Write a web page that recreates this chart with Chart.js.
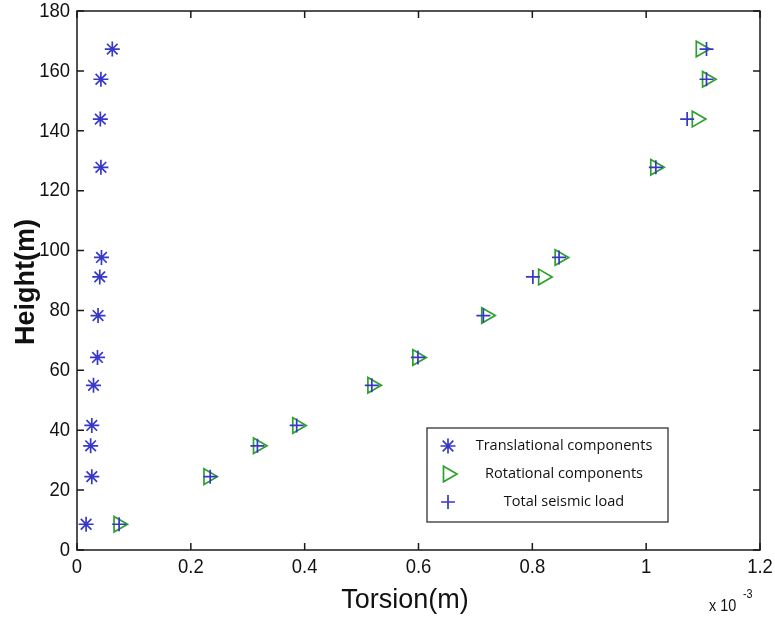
<!DOCTYPE html>
<html>
<head>
<meta charset="utf-8">
<script src="https://cdn.jsdelivr.net/npm/chart.js@4/dist/chart.umd.min.js"></script>
<style>html,body{margin:0;padding:0;background:#fff;}canvas{display:block;}</style>
</head>
<body>
<canvas id="c" width="775" height="619"></canvas>
<script>
// Heights (m)
const heights = [8.6, 24.5, 34.8, 41.6, 55.0, 64.3, 78.3, 91.2, 97.7, 127.8, 143.9, 157.2, 167.3];
// Torsion (x 10^-3 m)
const translational = [0.016, 0.026, 0.024, 0.026, 0.029, 0.036, 0.037, 0.040, 0.043, 0.042, 0.041, 0.042, 0.062];
const rotational = [0.073, 0.231, 0.318, 0.387, 0.519, 0.598, 0.719, 0.819, 0.848, 1.016, 1.089, 1.107, 1.096];
const totalLoad = [0.074, 0.234, 0.317, 0.386, 0.518, 0.599, 0.714, 0.801, 0.847, 1.017, 1.072, 1.106, 1.106];
const xTickLabels = ['0', '0.2', '0.4', '0.6', '0.8', '1', '1.2'];
const yTickLabels = ['0', '20', '40', '60', '80', '100', '120', '140', '160', '180'];
const seriesNames = ['Translational components', 'Rotational components', 'Total seismic load'];

const BLUE = '#3838c8';
const GREEN = '#2ea02e';
const SANS = '"Liberation Sans", Arial, sans-serif';
const toPts = (xs) => xs.map((x, i) => ({x: x, y: heights[i]}));

function txt(ctx, s, x, y, font, align, cond, rot) {
  ctx.save();
  ctx.font = font;
  ctx.textAlign = align;
  ctx.textBaseline = 'middle';
  ctx.translate(x, y);
  if (rot) ctx.rotate(rot);
  ctx.scale(cond, 1);
  ctx.fillText(s, 0, 0);
  ctx.restore();
}

const boxPlugin = {
  id: 'matlabBox',
  afterDraw(chart) {
    const {ctx, chartArea: a, scales} = chart;
    ctx.save();
    ctx.strokeStyle = '#1a1a1a';
    ctx.lineWidth = 1.5;
    ctx.strokeRect(a.left, a.top, a.right - a.left, a.bottom - a.top);
    const L = 7;
    ctx.beginPath();
    scales.x.ticks.forEach((t) => {
      const px = scales.x.getPixelForValue(t.value);
      ctx.moveTo(px, a.bottom); ctx.lineTo(px, a.bottom - L);
      ctx.moveTo(px, a.top); ctx.lineTo(px, a.top + L);
    });
    scales.y.ticks.forEach((t) => {
      const py = scales.y.getPixelForValue(t.value);
      ctx.moveTo(a.left, py); ctx.lineTo(a.left + L, py);
      ctx.moveTo(a.right, py); ctx.lineTo(a.right - L, py);
    });
    ctx.stroke();

    // tick labels
    ctx.fillStyle = '#111';
    const tickFont = '21px ' + SANS;
    scales.x.ticks.forEach((t, i) => {
      txt(ctx, xTickLabels[i], scales.x.getPixelForValue(t.value), a.bottom + 17, tickFont, 'center', 0.88);
    });
    scales.y.ticks.forEach((t, i) => {
      txt(ctx, yTickLabels[i], a.left - 7, scales.y.getPixelForValue(t.value), tickFont, 'right', 0.88);
    });

    // axis titles
    txt(ctx, 'Height(m)', 27, 282, 'bold 27px ' + SANS, 'center', 1.0, -Math.PI / 2);
    txt(ctx, 'Torsion(m)', 405, 601, '27px ' + SANS, 'center', 1.0);
    txt(ctx, 'x 10', 709, 606, '17px ' + SANS, 'left', 0.85);
    txt(ctx, '-3', 743, 595, '12px ' + SANS, 'left', 0.9);

    // legend
    const lx = 427, ly = 428, lw = 241, lh = 94;
    ctx.fillStyle = '#fff';
    ctx.fillRect(lx, ly, lw, lh);
    ctx.strokeStyle = '#333';
    ctx.lineWidth = 1.3;
    ctx.strokeRect(lx, ly, lw, lh);
    const rows = [446, 474, 502];
    chart.data.datasets.forEach((ds, i) => {
      ctx.strokeStyle = ds.borderColor;
      ctx.fillStyle = 'rgba(0,0,0,0)';
      ctx.lineWidth = ds.borderWidth;
      Chart.helpers.drawPoint(ctx, {pointStyle: ds.pointStyle, rotation: ds.rotation || 0, radius: ds.pointRadius, borderWidth: ds.borderWidth}, 448, rows[i]);
      ctx.fillStyle = '#111';
      txt(ctx, seriesNames[i], 564, rows[i], '15px "Open Sans", sans-serif', 'center', 0.97);
    });
    ctx.restore();
  }
};

new Chart(document.getElementById('c'), {
  type: 'scatter',
  data: {
    datasets: [
      {label: seriesNames[0], data: toPts(translational), pointStyle: 'star', pointRadius: 7.5, borderColor: BLUE, backgroundColor: 'rgba(0,0,0,0)', borderWidth: 1.7, order: 2},
      {label: seriesNames[1], data: toPts(rotational), pointStyle: 'triangle', rotation: 90, pointRotation: 90, pointRadius: 9, borderColor: GREEN, backgroundColor: 'rgba(0,0,0,0)', borderWidth: 1.7, order: 1},
      {label: seriesNames[2], data: toPts(totalLoad), pointStyle: 'cross', pointRadius: 7, borderColor: BLUE, backgroundColor: 'rgba(0,0,0,0)', borderWidth: 1.7, order: 0}
    ]
  },
  options: {
    responsive: false,
    animation: false,
    events: [],
    layout: {padding: {top: 11, right: 15, left: 0, bottom: 0}},
    plugins: {legend: {display: false}, tooltip: {enabled: false}},
    scales: {
      x: {
        type: 'linear', min: 0, max: 1.2,
        grid: {display: false, drawTicks: false},
        border: {display: false},
        ticks: {stepSize: 0.2, display: false},
        afterFit: (s) => { s.height = 69; }
      },
      y: {
        type: 'linear', min: 0, max: 180,
        grid: {display: false, drawTicks: false},
        border: {display: false},
        ticks: {stepSize: 20, display: false},
        afterFit: (s) => { s.width = 77; }
      }
    }
  },
  plugins: [boxPlugin]
});
</script>
</body>
</html>
